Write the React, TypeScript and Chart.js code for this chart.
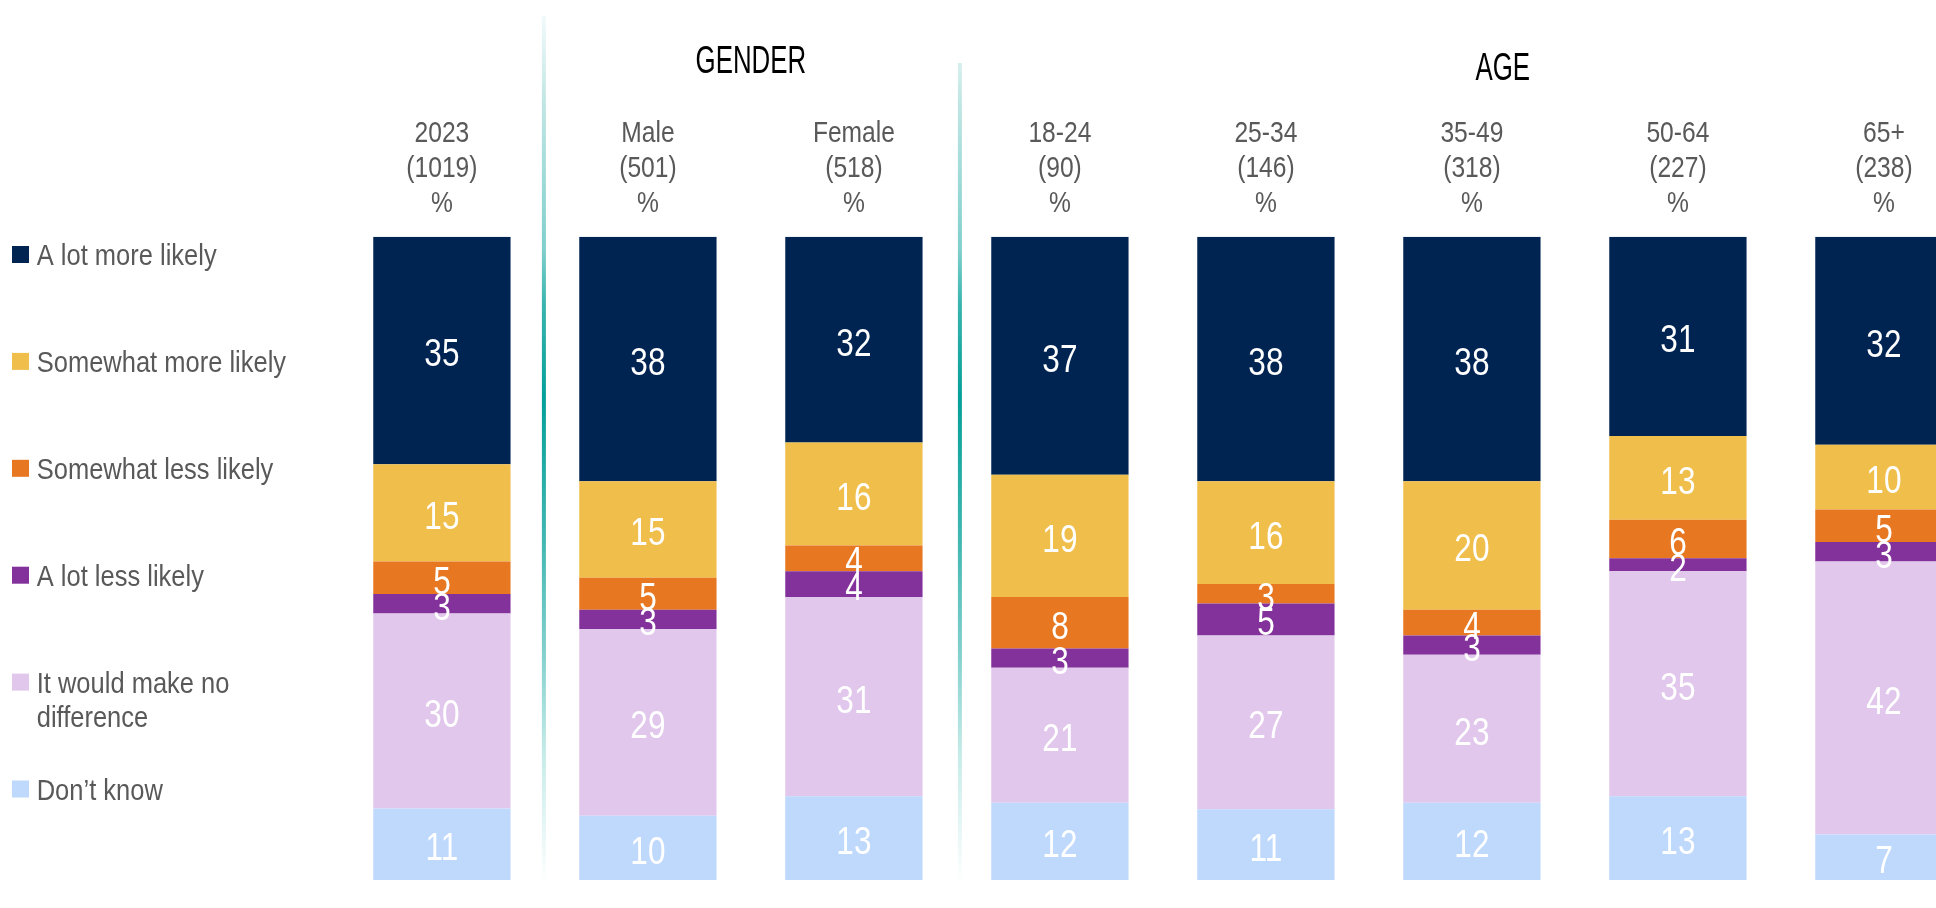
import React, { useEffect, useRef } from 'react';
import { Chart, registerables } from 'chart.js';

Chart.register(...registerables);

// ---------- data ----------
const categories = ['2023', 'Male', 'Female', '18-24', '25-34', '35-49', '50-64', '65+'];
const bases = ['(1019)', '(501)', '(518)', '(90)', '(146)', '(318)', '(227)', '(238)'];
const unitLabel = '%';

const groupNames = ['GENDER', 'AGE'];
const groupCenters = [1.5, 5.15]; // in category-index units
const groupBaselines = [73, 80];

const aLotMoreLikely = [35, 38, 32, 37, 38, 38, 31, 32];
const somewhatMoreLikely = [15, 15, 16, 19, 16, 20, 13, 10];
const somewhatLessLikely = [5, 5, 4, 8, 3, 4, 6, 5];
const aLotLessLikely = [3, 3, 4, 3, 5, 3, 2, 3];
const noDifference = [30, 29, 31, 21, 27, 23, 35, 42];
const dontKnow = [11, 10, 13, 12, 11, 12, 13, 7];

const seriesLabels = [
  'A lot more likely',
  'Somewhat more likely',
  'Somewhat less likely',
  'A lot less likely',
  'It would make no difference',
  'Don\u2019t know',
];
const legendLines = [
  ['A lot more likely'],
  ['Somewhat more likely'],
  ['Somewhat less likely'],
  ['A lot less likely'],
  ['It would make no', 'difference'],
  ['Don\u2019t know'],
];
const seriesColors = ['#002452', '#F0BE4A', '#E87722', '#84329B', '#E2C7EC', '#BFD9FD'];
const seriesValues = [aLotMoreLikely, somewhatMoreLikely, somewhatLessLikely, aLotLessLikely, noDifference, dontKnow];

// separators after category index
const separatorsAfter = [0, 2];
const separatorTops = [16, 63];
const separatorShift = [-1, 3];

// ---------- styles ----------
const FONT = '"Liberation Sans", Arial, Helvetica, sans-serif';
const GREY = '#595959';
const CANVAS_W = 2000;
const CANVAS_H = 908;

function drawText(ctx: CanvasRenderingContext2D, text: string, x: number, y: number, size: number, sx: number, color: string, align: CanvasTextAlign = 'center') {
  ctx.save();
  ctx.font = `${size}px ${FONT}`;
  ctx.fillStyle = color;
  ctx.textAlign = align;
  ctx.textBaseline = 'alphabetic';
  ctx.translate(x, y);
  ctx.scale(sx, 1);
  ctx.fillText(text, 0, 0);
  ctx.restore();
}

const decorPlugin = {
  id: 'decor',
  beforeDatasetsDraw(chart: any) {
    const ctx: CanvasRenderingContext2D = chart.ctx;
    const xs = chart.scales.x;
    const gTop = 16;
    const bottom = chart.chartArea.bottom + 4;
    const g = ctx.createLinearGradient(0, gTop, 0, bottom);
    g.addColorStop(0, '#f2fafa');
    g.addColorStop(0.1, '#c0e6e4');
    g.addColorStop(0.27, '#7fcfcc');
    g.addColorStop(0.33, '#3ab5b0');
    g.addColorStop(0.44, '#05a09a');
    g.addColorStop(0.6, '#3fb7b2');
    g.addColorStop(0.73, '#80cfcc');
    g.addColorStop(0.85, '#c5ebe8');
    g.addColorStop(1, '#ffffff');
    separatorsAfter.forEach((a, i) => {
      const x = (xs.getPixelForValue(a) + xs.getPixelForValue(a + 1)) / 2 + separatorShift[i];
      const top = separatorTops[i];
      ctx.save();
      ctx.fillStyle = g;
      ctx.fillRect(x - 2, top, 4, bottom - top);
      ctx.restore();
    });
  },
  afterDatasetsDraw(chart: any) {
    const ctx: CanvasRenderingContext2D = chart.ctx;
    const xs = chart.scales.x;
    const top = chart.chartArea.top;

    // value labels
    chart.data.datasets.forEach((ds: any, di: number) => {
      const meta = chart.getDatasetMeta(di);
      meta.data.forEach((el: any, i: number) => {
        const cy = (el.y + el.base) / 2;
        drawText(ctx, String(ds.rawValues[i]), el.x, cy + 16, 38, 0.83, '#ffffff');
      });
    });

    // category headers
    categories.forEach((c, i) => {
      const x = xs.getPixelForValue(i);
      drawText(ctx, c, x, top - 95.2, 30, 0.82, GREY);
      drawText(ctx, bases[i], x, top - 60.2, 30, 0.82, GREY);
      drawText(ctx, unitLabel, x, top - 25.2, 30, 0.82, GREY);
    });

    // group headers
    groupNames.forEach((g, i) => {
      const x = xs.getPixelForValue(groupCenters[i]);
      drawText(ctx, g, x, groupBaselines[i], 38, 0.68, '#000000');
    });

    // legend
    legendLines.forEach((lines, i) => {
      const cy = 254.5 + i * 106.9;
      ctx.save();
      ctx.fillStyle = seriesColors[i];
      ctx.fillRect(12, cy - 8.5, 17, 17);
      ctx.restore();
      lines.forEach((ln, li) => {
        drawText(ctx, ln, 36.7, cy + 10.5 + li * 34.6, 30, 0.85, GREY, 'left');
      });
    });
  },
};

export default function App() {
  const ref = useRef<HTMLCanvasElement | null>(null);

  useEffect(() => {
    if (!ref.current) return;
    const totals = categories.map((_, i) => seriesValues.reduce((s, arr) => s + arr[i], 0));
    const datasets = seriesValues
      .map((vals, si) => ({
        label: seriesLabels[si],
        data: vals.map((v, i) => (v / totals[i]) * 100),
        rawValues: vals,
        backgroundColor: seriesColors[si],
        borderWidth: 0,
        barPercentage: 0.6665,
        categoryPercentage: 1,
      }))
      .reverse(); // first dataset is stacked at the bottom

    const chart = new Chart(ref.current, {
      type: 'bar',
      data: { labels: categories, datasets: datasets as any },
      options: {
        responsive: false,
        maintainAspectRatio: false,
        animation: false,
        layout: { padding: { left: 338.9, right: CANVAS_W - 1986.9, top: 236.7, bottom: CANVAS_H - 880 } },
        plugins: { legend: { display: false }, tooltip: { enabled: false } },
        scales: {
          x: { stacked: true, display: false },
          y: { stacked: true, display: false, min: 0, max: 100 },
        },
      },
      plugins: [decorPlugin],
    });
    return () => chart.destroy();
  }, []);

  return (
    <div style={{ position: 'fixed', left: 0, top: 0, width: 1936, height: 908, overflow: 'hidden', background: '#fff' }}>
      <canvas ref={ref} width={CANVAS_W} height={CANVAS_H} style={{ display: 'block', width: CANVAS_W, height: CANVAS_H }} />
    </div>
  );
}
